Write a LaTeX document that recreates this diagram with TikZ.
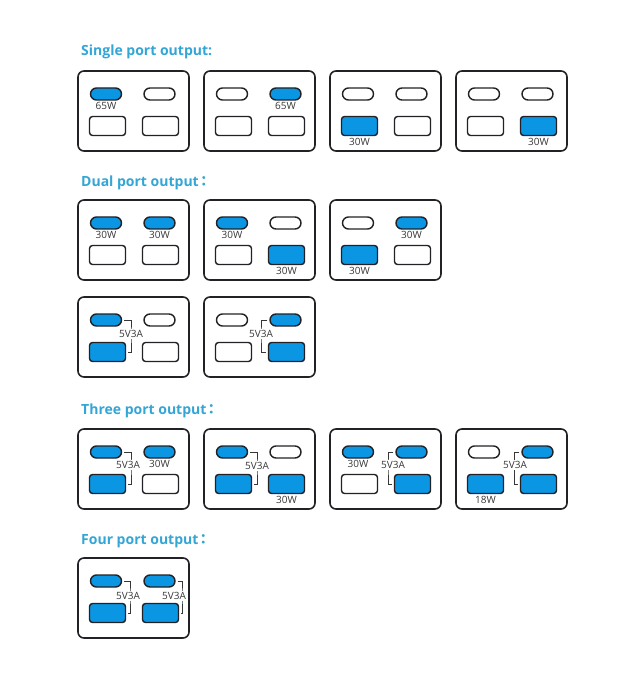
\documentclass[tikz,border=0pt]{standalone}
\usepackage{fontspec}
\setmainfont{Open Sans}
\newfontfamily\cjk{Noto Sans CJK TC}
\usetikzlibrary{positioning,shapes.misc}
\definecolor{portblue}{RGB}{10,150,226}
\definecolor{headblue}{RGB}{52,166,214}
\definecolor{edge}{RGB}{34,34,38}
\definecolor{labelgray}{RGB}{55,55,55}
\tikzset{
  frame/.style={draw=edge, line width=1.6pt, rounded corners=6pt, minimum width=111pt, minimum height=80pt, inner sep=0pt},
  cport/.style={rounded rectangle, draw=edge, line width=1.4pt, minimum width=31pt, minimum height=12pt, inner sep=0pt},
  aport/.style={rectangle, rounded corners=3pt, draw=edge, line width=1.4pt, minimum width=36pt, minimum height=19pt, inner sep=0pt},
  on/.style={fill=portblue},
  off/.style={fill=white},
  watt/.style={font=\fontsize{10}{11}\selectfont, text=labelgray, inner sep=0pt},
  volt/.style={watt, fill=white, inner sep=1pt},
  link/.style={draw=labelgray, line width=0.8pt},
  heading/.style={font=\fontsize{14}{16}\selectfont\bfseries, text=headblue, anchor=west, inner sep=0pt}
}
\newcommand{\charger}[6]{%
  \begin{scope}[shift={(#2)}]
    \node[frame] (#1) at (55.5,40) {};
    \node[cport,#3] (#1c1) at (28,23) {};
    \node[cport,#4] (#1c2) at (81.5,23) {};
    \node[aport,#5] (#1a1) at (29.5,55) {};
    \node[aport,#6] (#1a2) at (82.5,55) {};
  \end{scope}}
\begin{document}
\begin{tikzpicture}[x=1pt,y=-1pt]
\fill[white] (0,0) rectangle (632,700);
\useasboundingbox (0,0) rectangle (632,700);

\node[heading] (h1) at (81,52) {Single port output:};
\charger{s1}{78,71}{on}{off}{off}{off}
\charger{s2}{204,71}{off}{on}{off}{off}
\charger{s3}{330,71}{off}{off}{on}{off}
\charger{s4}{456,71}{off}{off}{off}{on}
\node[watt,below=1.5pt of s1c1] (s1w) {65W};
\node[watt,below=1.5pt of s2c2] (s2w) {65W};
\node[watt,below=2pt of s3a1] (s3w) {30W};
\node[watt,below=2pt of s4a2] (s4w) {30W};

\node[heading] (h2) at (81,183) {Dual port output\kern-2pt{\cjk ：}};
\charger{d1}{78,200}{on}{on}{off}{off}
\charger{d2}{204,200}{on}{off}{off}{on}
\charger{d3}{330,200}{off}{on}{on}{off}
\node[watt,below=1.5pt of d1c1] (d1w) {30W};
\node[watt,below=1.5pt of d1c2] (d1x) {30W};
\node[watt,below=1.5pt of d2c1] (d2w) {30W};
\node[watt,below=2pt of d2a2] (d2x) {30W};
\node[watt,below=1.5pt of d3c2] (d3w) {30W};
\node[watt,below=2pt of d3a1] (d3x) {30W};

\charger{d4}{78,297}{on}{off}{on}{off}
\charger{d5}{204,297}{off}{on}{off}{on}
\coordinate (d4k) at (131,334);
\coordinate (d5k) at (261,334);
\draw[link] ([xshift=2pt]d4c1.east) -| (d4k) |- ([xshift=2pt]d4a1.east);
\draw[link] ([xshift=-2pt]d5c2.west) -| (d5k) |- ([xshift=-2pt]d5a2.west);
\node[volt] (d4v) at (d4k) {5V3A};
\node[volt] (d5v) at (d5k) {5V3A};

\node[heading] (h3) at (81,411) {Three port output\kern-2pt{\cjk ：}};
\charger{t1}{78,429}{on}{on}{on}{off}
\charger{t2}{204,429}{on}{off}{on}{on}
\charger{t3}{330,429}{on}{on}{off}{on}
\charger{t4}{456,429}{off}{on}{on}{on}
\coordinate (t1k) at (131,466);
\coordinate (t2k) at (257,466);
\coordinate (t3k) at (388,466);
\coordinate (t4k) at (514,466);
\draw[link] ([xshift=2pt]t1c1.east) -| (t1k) |- ([xshift=2pt]t1a1.east);
\draw[link] ([xshift=2pt]t2c1.east) -| (t2k) |- ([xshift=2pt]t2a1.east);
\draw[link] ([xshift=-2pt]t3c2.west) -| (t3k) |- ([xshift=-2pt]t3a2.west);
\draw[link] ([xshift=-2pt]t4c2.west) -| (t4k) |- ([xshift=-2pt]t4a2.west);
\node[volt] (t1v) at (128,465) {5V3A};
\node[volt] (t2v) at (t2k) {5V3A};
\node[volt] (t3v) at (393,465) {5V3A};
\node[volt] (t4v) at (515,465) {5V3A};
\node[watt,below=1.5pt of t1c2] (t1w) {30W};
\node[watt,below=2pt of t2a2] (t2w) {30W};
\node[watt,below=1.5pt of t3c1] (t3w) {30W};
\node[watt,below=2pt of t4a1] (t4w) {18W};

\node[heading] (h4) at (81,541) {Four port output\kern-2pt{\cjk ：}};
\charger{f1}{78,558}{on}{on}{on}{on}
\coordinate (f1k) at (130,595);
\coordinate (f1m) at (182,595);
\draw[link] ([xshift=2pt]f1c1.east) -| (f1k) |- ([xshift=2pt]f1a1.east);
\draw[link] ([xshift=2pt]f1c2.east) -| (f1m) |- ([xshift=2pt]f1a2.east);
\node[volt] (f1v) at (128,596) {5V3A};
\node[volt] (f1u) at (174,596) {5V3A};
\end{tikzpicture}
\end{document}
